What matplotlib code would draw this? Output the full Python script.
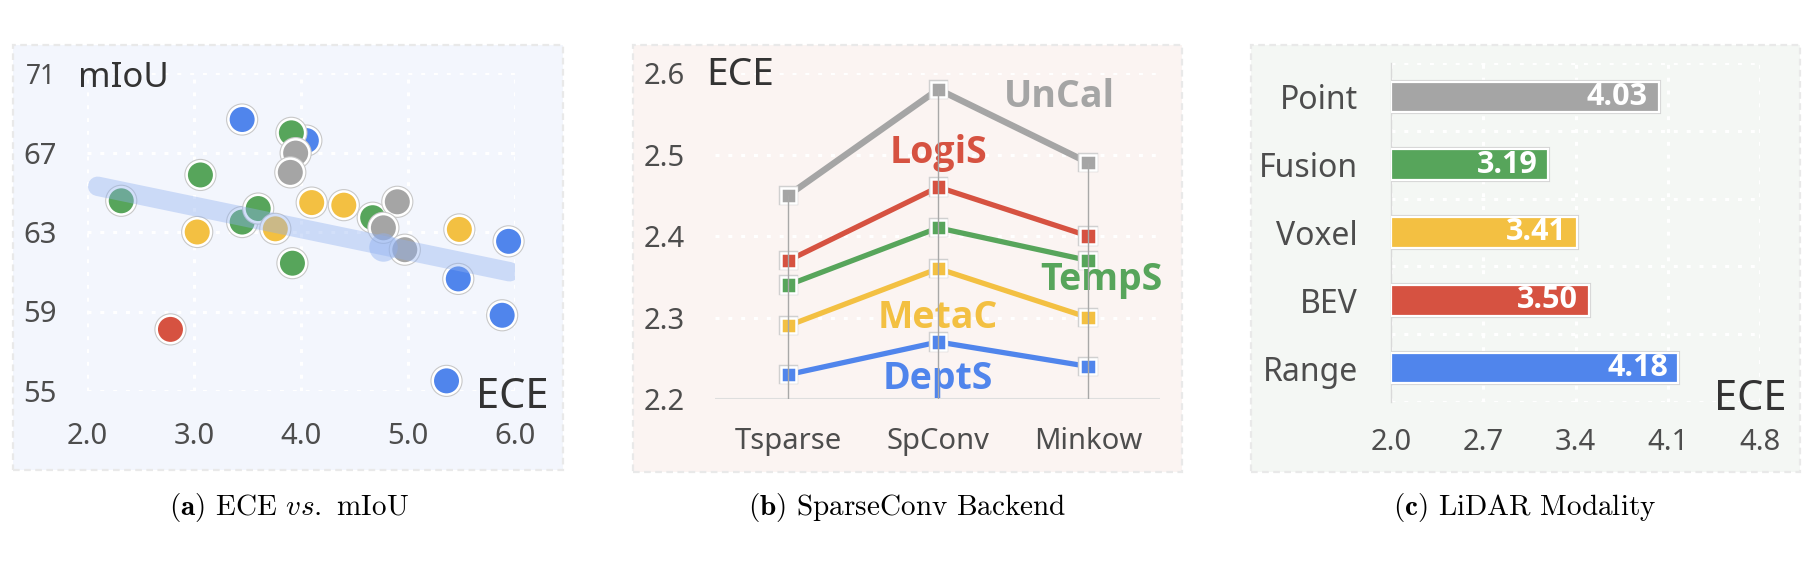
import matplotlib
matplotlib.use("Agg")
import matplotlib.pyplot as plt
import matplotlib.patheffects as pe
from matplotlib.patches import Rectangle
import numpy as np

plt.rcParams['font.family'] = ['Noto Sans', 'DejaVu Sans']
plt.rcParams['mathtext.fontset'] = 'cm'
BOLD_FAMILY = ['Open Sans', 'Roboto', 'DejaVu Sans']

# ---- (a) ECE vs. mIoU ----
blue_x = [3.45, 4.05, 5.94, 5.47, 5.88, 5.36]
blue_y = [68.66, 67.6, 62.53, 60.64, 58.81, 55.51]
green_x = [3.91, 3.06, 2.32, 3.45, 3.60, 3.92, 4.67]
green_y = [67.99, 65.87, 64.57, 63.5, 64.18, 61.43, 63.72]
yellow_x = [3.03, 3.76, 4.10, 4.40, 5.48]
yellow_y = [63.0, 63.16, 64.48, 64.35, 63.13]
gray_x = [3.95, 3.90, 4.90, 4.77, 4.97]
gray_y = [66.97, 66.0, 64.52, 63.21, 62.11]
red_x = [2.78]
red_y = [58.1]
faded_x = [4.77]
faded_y = [62.26]
trend_x = [2.1, 5.95]
trend_y = [65.3, 61.0]
a_xticks = [2.0, 3.0, 4.0, 5.0, 6.0]
a_yticks = [55, 59, 63, 67, 71]

# ---- (b) SparseConv backend ----
backends = ['Tsparse', 'SpConv', 'Minkow']
uncal = [2.45, 2.58, 2.49]
logis = [2.37, 2.46, 2.40]
temps = [2.34, 2.41, 2.37]
metac = [2.29, 2.36, 2.30]
depts = [2.23, 2.27, 2.24]
b_yticks = [2.2, 2.3, 2.4, 2.5, 2.6]

# ---- (c) LiDAR modality ----
modalities = ['Point', 'Fusion', 'Voxel', 'BEV', 'Range']
modality_ece = [4.03, 3.19, 3.41, 3.50, 4.18]
c_xticks = [2.0, 2.7, 3.4, 4.1, 4.8]

BLUE, GREEN, YELLOW, RED, GRAY = '#5085EC', '#57A55B', '#F3C042', '#D65241', '#A5A5A5'
TICK_C = '#4D4D4D'
TITLE_C = '#333333'
TICK_FS = 21

W, H = 1818, 564
fig = plt.figure(figsize=(W / 100, H / 100), dpi=100)


def px_axes(x0, y0, x1, y1):
    return fig.add_axes([x0 / W, 1 - y1 / H, (x1 - x0) / W, (y1 - y0) / H])


def px_text(x, y, s, **kw):
    return fig.text(x / W, 1 - y / H, s, **kw)


def panel_bg(x0, y0, x1, y1, color):
    r = Rectangle((x0 / W, 1 - y1 / H), (x1 - x0) / W, (y1 - y0) / H,
                  transform=fig.transFigure, facecolor=color, edgecolor='#E9E9E9',
                  linestyle=(0, (3, 2)), linewidth=1.6, zorder=-10)
    fig.add_artist(r)


dots = (0, (1.3, 2.9))

# ================= panel a =================
panel_bg(13, 45, 563, 470, '#F3F6FD')
ax = px_axes(87, 73, 515, 391)
ax.set_facecolor('none')
ax.set_xlim(2.0, 6.0)
ax.set_ylim(55, 71)
ax.set_xticks(a_xticks)
ax.set_yticks(a_yticks)
ax.set_xticklabels(['%.1f' % v for v in a_xticks])
ax.set_yticklabels([str(v) for v in a_yticks])
for s in ax.spines.values():
    s.set_visible(False)
ax.tick_params(length=0, labelsize=TICK_FS, colors=TICK_C)
ax.tick_params(axis='y', pad=22)
ax.tick_params(axis='x', pad=22)
ax.get_yticklabels()[-1].set_fontsize(19)
ax.grid(color='white', lw=2.2, ls=dots)
ax.set_axisbelow(True)

stroke = [pe.withStroke(linewidth=3.4, foreground='#C8C8C8')]
for xs, ys, c in [(blue_x, blue_y, BLUE), (green_x, green_y, GREEN),
                  (yellow_x, yellow_y, YELLOW), (gray_x, gray_y, GRAY),
                  (red_x, red_y, RED)]:
    ax.scatter(xs, ys, s=392, color=c, edgecolors='white', linewidths=1.8,
               clip_on=False, zorder=3, path_effects=stroke)
ax.scatter(faded_x, faded_y, s=420, color='#8FB0F0', alpha=0.45, lw=0,
           clip_on=False, zorder=4)
ax.plot(trend_x, trend_y, color='#8FB0F0', alpha=0.4, lw=14,
        solid_capstyle='round', zorder=5)

px_text(78, 87, 'mIoU', fontsize=25, color=TITLE_C, va='baseline', ha='left')
px_text(548, 408, 'ECE', fontsize=30, color=TITLE_C, va='baseline', ha='right')

# ================= panel b =================
panel_bg(633, 45, 1182, 472, '#FBF4F2')
bx = px_axes(715, 73, 1160, 399)
bx.set_facecolor('none')
xpos = np.arange(len(backends))
bx.set_xlim(-0.49, 2.48)
bx.set_ylim(2.2, 2.6)
bx.set_yticks(b_yticks)
bx.set_yticklabels(['%.1f' % v for v in b_yticks])
bx.set_xticks(xpos)
bx.set_xticklabels(backends)
for s in bx.spines.values():
    s.set_visible(False)
bx.tick_params(length=0, labelsize=TICK_FS, colors=TICK_C)
bx.tick_params(axis='y', pad=22)
bx.tick_params(axis='x', pad=20)
for v in b_yticks[1:]:
    bx.axhline(v, color='white', lw=2.2, ls=dots, zorder=0)
bx.axhline(2.2, color='#DEDEDE', lw=1.5, zorder=0)

series = [(uncal, GRAY, 4.6), (logis, RED, 3.8), (temps, GREEN, 3.8),
          (metac, YELLOW, 3.8), (depts, BLUE, 3.8)]
mstroke = [pe.withStroke(linewidth=3.2, foreground='#D0D0D0')]
for vals, c, lw in series:
    bx.plot(xpos, vals, color=c, lw=lw, zorder=2, solid_capstyle='butt')
    bx.plot(xpos, vals, ls='none', marker='s', ms=11, color=c, mec='white',
            mew=1.8, zorder=3, clip_on=False, path_effects=mstroke)
bx.vlines(xpos, 2.2, uncal, color='#A8A8A8', lw=1.0, zorder=6)

label_kw = dict(fontsize=27, fontweight='bold', family=BOLD_FAMILY,
                ha='center', va='center', zorder=5)
bx.text(1.81, 2.571, 'UnCal', color=GRAY, **label_kw)
bx.text(1.0, 2.502, 'LogiS', color=RED, **label_kw)
bx.text(2.09, 2.346, 'TempS', color=GREEN, **label_kw)
bx.text(1.0, 2.30, 'MetaC', color=YELLOW, **label_kw)
bx.text(1.0, 2.224, 'DeptS', color=BLUE, **label_kw)

px_text(706, 85, 'ECE', fontsize=28, color=TITLE_C, va='baseline', ha='left')

# ================= panel c =================
panel_bg(1251, 45, 1800, 472, '#F4F7F4')
cx = px_axes(1391, 63, 1760, 402)
cx.set_facecolor('none')
ypos = np.arange(len(modalities))
cx.set_xlim(2.0, 4.8)
cx.set_ylim(4.5, -0.5)
cx.set_xticks(c_xticks)
cx.set_xticklabels(['%.1f' % v for v in c_xticks])
cx.set_yticks(ypos)
cx.set_yticklabels(modalities)
cx.set_yticks(np.arange(-0.5, len(modalities)), minor=True)
for k, s in cx.spines.items():
    s.set_visible(k == 'left')
cx.spines['left'].set_color('#D9D9D9')
cx.spines['left'].set_linewidth(1.0)
cx.tick_params(which='both', length=0, labelsize=TICK_FS, colors=TICK_C)
cx.tick_params(axis='y', pad=24, labelsize=23)
cx.tick_params(axis='x', pad=19)
cx.grid(axis='y', which='minor', color='white', lw=2.2, ls=dots)
cx.grid(axis='x', which='major', color='white', lw=2.2, ls=dots)
cx.set_axisbelow(True)

bar_colors = [GRAY, GREEN, YELLOW, RED, BLUE]
vals = np.array(modality_ece)
bars = cx.barh(ypos, vals - 2.0, left=2.0, height=0.45, color=bar_colors,
               edgecolor='white', linewidth=1.6, zorder=3)
for b in bars:
    b.set_path_effects([pe.withStroke(linewidth=3.0, foreground='#D4D4D4')])
for y, v in zip(ypos, vals):
    cx.text(v - 0.08, y, '%.2f' % v, color='white', fontsize=22,
            fontweight='bold', family=BOLD_FAMILY, ha='right', va='center',
            zorder=4)

px_text(1787, 410, 'ECE', fontsize=30, color=TITLE_C, va='baseline', ha='right')

# ================= captions =================
cap_fs = 21
px_text(289, 507, r'$\mathbf{(a)}$ ECE $\mathit{vs.}$ mIoU', fontsize=cap_fs,
        family='cmr10', ha='center', va='center', color='black')
px_text(907, 507, r'$\mathbf{(b)}$ SparseConv Backend', fontsize=cap_fs,
        family='cmr10', ha='center', va='center', color='black')
px_text(1525, 507, r'$\mathbf{(c)}$ LiDAR Modality', fontsize=cap_fs,
        family='cmr10', ha='center', va='center', color='black')

fig.savefig('out.png', dpi=100)
